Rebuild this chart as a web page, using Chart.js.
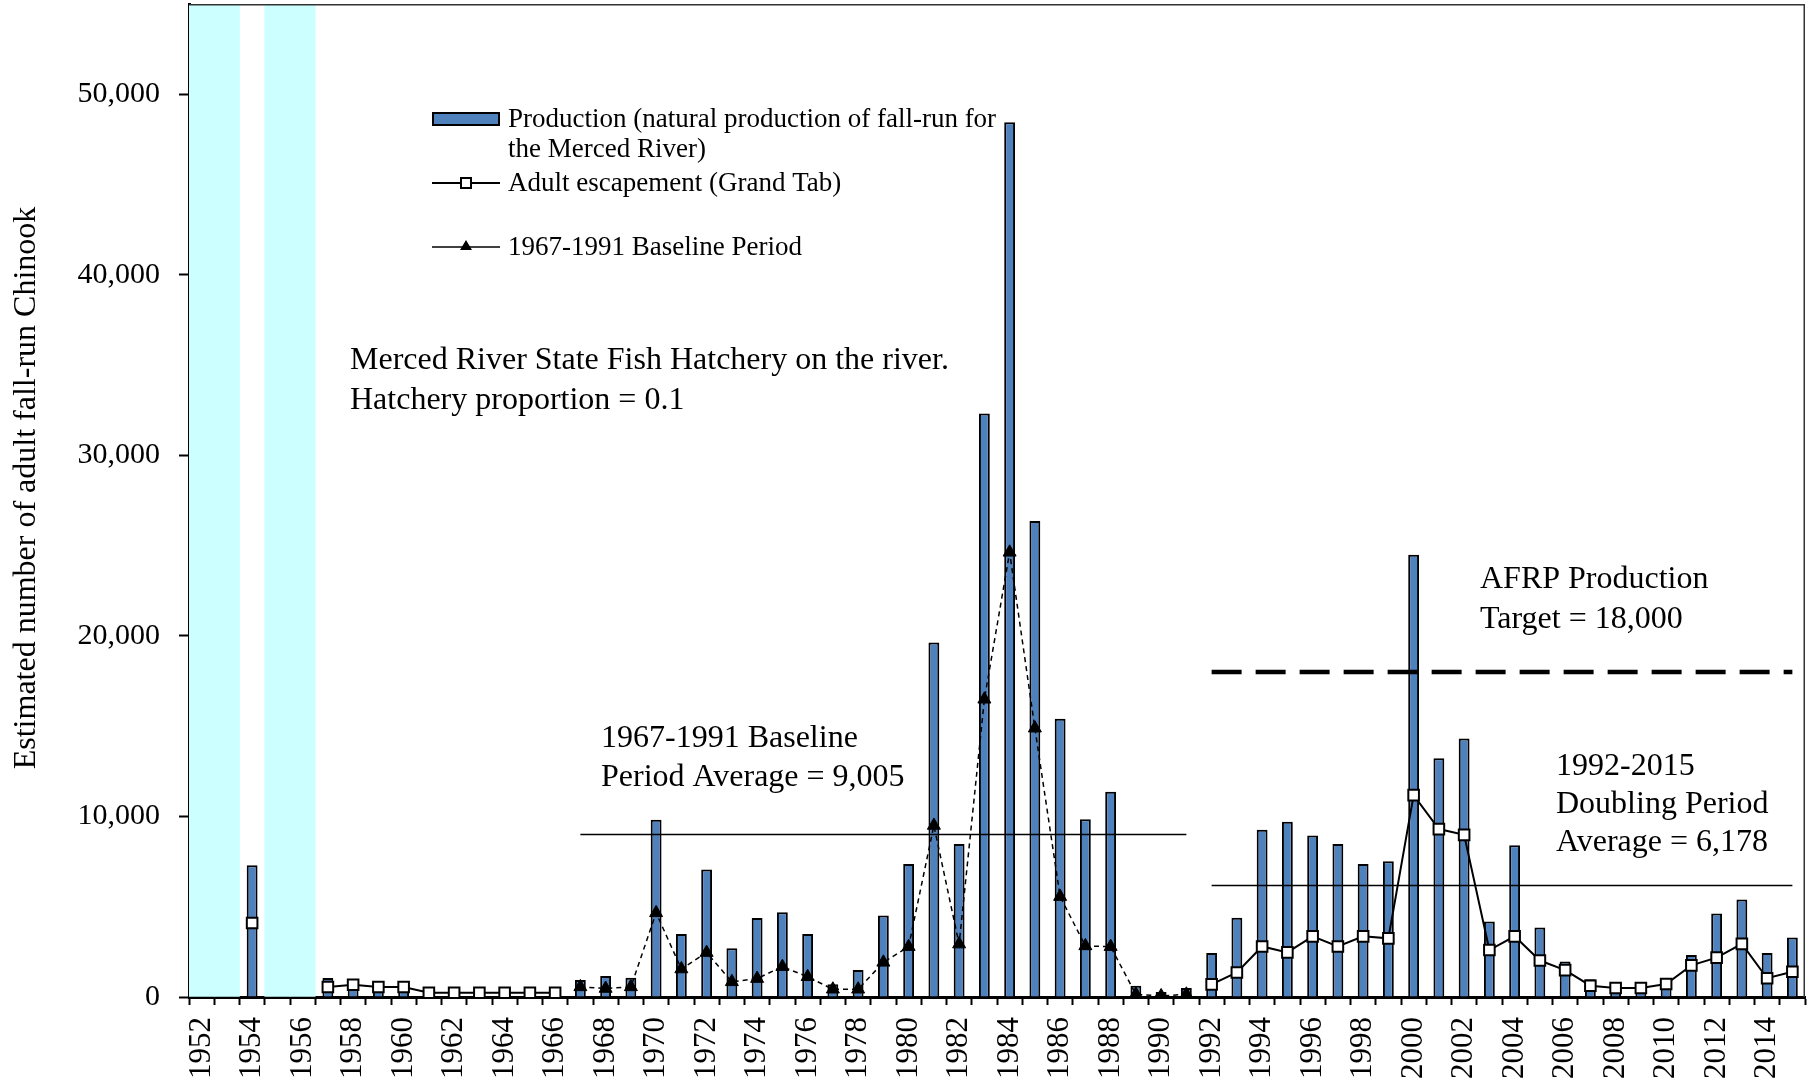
<!DOCTYPE html>
<html>
<head>
<meta charset="utf-8">
<title>Merced River fall-run Chinook</title>
<script src="https://cdn.jsdelivr.net/npm/chart.js@4.4.1/dist/chart.umd.min.js"></script>
<style>
    html, body { margin: 0; padding: 0; background: #ffffff; }
</style>
</head>
<body>
<canvas id="chinookChart" width="1816" height="1081"></canvas>
<script>
const years = [1952, 1953, 1954, 1955, 1956, 1957, 1958, 1959, 1960, 1961,
    1962, 1963, 1964, 1965, 1966, 1967, 1968, 1969, 1970, 1971,
    1972, 1973, 1974, 1975, 1976, 1977, 1978, 1979, 1980, 1981,
    1982, 1983, 1984, 1985, 1986, 1987, 1988, 1989, 1990, 1991,
    1992, 1993, 1994, 1995, 1996, 1997, 1998, 1999, 2000, 2001,
    2002, 2003, 2004, 2005, 2006, 2007, 2008, 2009, 2010, 2011,
    2012, 2013, 2014, 2015]

// natural production of fall-run, one value per year (null = no estimate)
const production = [null, null, 7300, null, null, 1050, 800, 450, 400, 200,
    150, 150, 150, 150, 150, 935, 1160, 1060, 9820, 3490,
    7060, 2700, 4380, 4700, 3490, 710, 1490, 4510, 7360, 19630,
    8480, 32320, 48450, 26370, 15410, 9850, 11370, 625, 280, 500,
    2435, 4390, 9260, 9700, 8940, 8480, 7370, 7515, 24490, 13220,
    14320, 4180, 8400, 3850, 1960, 990, 400, 400, 700, 2330,
    4630, 5400, 2435, 3300]

// adult escapement (Grand Tab) outside the baseline period
const escapement = [null, null, 4100, null, null, 550, 680, 550, 550, 230,
    230, 230, 230, 230, 230, null, null, null, null, null,
    null, null, null, null, null, null, null, null, null, null,
    null, null, null, null, null, null, null, null, null, null,
    700, 1360, 2800, 2470, 3360, 2800, 3360, 3250, 11180, 9300,
    8980, 2600, 3360, 2020, 1490, 625, 500, 500, 720, 1750,
    2180, 2940, 1040, 1400]

// adult escapement during the 1967-1991 baseline period
const baseline = [null, null, null, null, null, null, null, null, null, null,
    null, null, null, null, null, 560, 470, 560, 4660, 1550,
    2460, 840, 1020, 1680, 1120, 430, 430, 1920, 2790, 9500,
    2930, 16490, 24630, 14890, 5560, 2830, 2790, 150, 60, 150,
    null, null, null, null, null, null, null, null, null, null,
    null, null, null, null, null, null, null, null, null, null,
    null, null, null, null]

const yTicks = [0, 10000, 20000, 30000, 40000, 50000]
const shadedYears = [1952, 1953, 1955, 1956]
const baselinePeriod = [1967, 1991]
const doublingPeriod = [1992, 2015]
const baselineAverage = 9005
const doublingAverage = 6178
const afrpTarget = 18000
const yMax = 55000

function levelOver(period, value) {
    return years.map(y => (y >= period[0] && y <= period[1]) ? value : null)
}

const serif = '"Liberation Serif", "Times New Roman", serif'
const barBlue = "#4f81bd"

Chart.defaults.font.family = serif
Chart.defaults.color = "#000"

// frame on top/right, axis title, text notes and the hand-placed legend
const chartDecor = {
    id: 'chartDecor',
    afterDraw(chart) {
        const { ctx, chartArea: { left, right, top, bottom } } = chart
        ctx.save()
        ctx.strokeStyle = '#333'
        ctx.lineWidth = 1.5
        ctx.beginPath()
        ctx.moveTo(left, top + 0.75)
        ctx.lineTo(right - 0.75, top + 0.75)
        ctx.lineTo(right - 0.75, bottom)
        ctx.stroke()

        ctx.fillStyle = '#000'
        ctx.textBaseline = 'middle'

        // y axis title
        ctx.save()
        ctx.translate(27, 488)
        ctx.rotate(-Math.PI / 2)
        ctx.textAlign = 'center'
        ctx.font = "32px " + serif
        ctx.fillText("Estimated number of adult fall-run Chinook", 0, 0)
        ctx.restore()

        ctx.textAlign = 'left'
        ctx.font = "32px " + serif
        ctx.fillText("Merced River State Fish Hatchery on the river.", 350, 361)
        ctx.fillText("Hatchery proportion = 0.1", 350, 401)
        ctx.fillText("1967-1991 Baseline", 601, 739)
        ctx.fillText("Period Average = 9,005", 601, 778)
        ctx.fillText("AFRP Production", 1480, 580)
        ctx.fillText("Target = 18,000", 1480, 620)
        ctx.fillText("1992-2015", 1556, 767)
        ctx.fillText("Doubling Period", 1556, 805)
        ctx.fillText("Average = 6,178", 1556, 843)

        // legend
        ctx.font = "27px " + serif
        ctx.fillStyle = barBlue
        ctx.fillRect(433, 113, 66, 12)
        ctx.strokeStyle = '#000'
        ctx.lineWidth = 2
        ctx.strokeRect(433, 113, 66, 12)
        ctx.fillStyle = '#000'
        ctx.fillText("Production (natural production of fall-run for", 508, 120)
        ctx.fillText("the Merced River)", 508, 150)

        ctx.beginPath()
        ctx.moveTo(432, 183)
        ctx.lineTo(500, 183)
        ctx.stroke()
        ctx.fillStyle = '#fff'
        ctx.fillRect(461, 178, 10, 10)
        ctx.strokeRect(461, 178, 10, 10)
        ctx.fillStyle = '#000'
        ctx.fillText("Adult escapement (Grand Tab)", 508, 184)

        ctx.lineWidth = 1.5
        ctx.beginPath()
        ctx.moveTo(432, 247)
        ctx.lineTo(500, 247)
        ctx.stroke()
        ctx.beginPath()
        ctx.moveTo(466, 240)
        ctx.lineTo(472, 250)
        ctx.lineTo(460, 250)
        ctx.closePath()
        ctx.fill()
        ctx.fillText("1967-1991 Baseline Period", 508, 248)
        ctx.restore()
    }
}

const data = {
    labels: years,
    datasets: [
        {
            type: "line",
            label: "Adult escapement (Grand Tab)",
            data: escapement,
            borderColor: "#000",
            borderWidth: 2,
            pointStyle: "rect",
            pointRadius: 7.5,
            pointBackgroundColor: "#fff",
            pointBorderColor: "#000",
            pointBorderWidth: 2,
            spanGaps: false,
            order: 0
        },
        {
            type: "line",
            label: "1967-1991 Baseline Period",
            data: baseline,
            borderColor: "#000",
            borderWidth: 1.5,
            borderDash: [5, 4],
            pointStyle: "triangle",
            pointRadius: 7.5,
            pointBackgroundColor: "#000",
            pointBorderColor: "#000",
            pointBorderWidth: 1,
            order: 1
        },
        {
            type: "line",
            label: "Baseline average",
            data: levelOver(baselinePeriod, baselineAverage),
            borderColor: "#000",
            borderWidth: 1.5,
            pointRadius: 0,
            order: 2
        },
        {
            type: "line",
            label: "Doubling period average",
            data: levelOver(doublingPeriod, doublingAverage),
            borderColor: "#000",
            borderWidth: 1.5,
            pointRadius: 0,
            order: 2
        },
        {
            type: "line",
            label: "AFRP production target",
            data: levelOver(doublingPeriod, afrpTarget),
            borderColor: "#000",
            borderWidth: 4.5,
            borderDash: [30, 14],
            pointRadius: 0,
            order: 2
        },
        {
            type: "bar",
            label: "Production (natural production of fall-run for the Merced River)",
            data: production,
            backgroundColor: barBlue,
            borderColor: "#000",
            borderWidth: 2,
            grouped: false,
            categoryPercentage: 1,
            barPercentage: 0.43,
            order: 3
        },
        {
            type: "bar",
            label: "shade",
            data: years.map(y => shadedYears.includes(y) ? yMax : null),
            backgroundColor: "#ccffff",
            borderWidth: 0,
            grouped: false,
            categoryPercentage: 1,
            barPercentage: 1,
            order: 4
        }
    ]
}

// config
const config = {
    type: "bar",
    data,
    options: {
        responsive: false,
        animation: false,
        events: [],
        layout: {
            autoPadding: false,
            padding: { left: 0, right: 11, top: 4, bottom: 0 }
        },
        plugins: {
            legend: { display: false },
            tooltip: { enabled: false }
        },
        scales: {
            x: {
                offset: true,
                grid: {
                    display: true,
                    drawOnChartArea: false,
                    drawTicks: true,
                    tickLength: 8,
                    tickColor: "#000",
                    tickWidth: 2,
                    offset: true
                },
                border: { display: true, color: "#000", width: 3 },
                ticks: {
                    autoSkip: false,
                    maxRotation: 90,
                    minRotation: 90,
                    padding: 12,
                    font: { size: 31 },
                    callback: function (val, i) {
                        return years[i] % 2 === 0 ? String(years[i]) : ""
                    }
                },
                afterFit(scale) {
                    scale.height = 84
                    scale.paddingLeft = 0
                    scale.paddingRight = 0
                }
            },
            y: {
                min: 0,
                max: yMax,
                grid: {
                    display: true,
                    drawOnChartArea: false,
                    drawTicks: true,
                    tickLength: 10,
                    tickColor: "#000",
                    tickWidth: 2
                },
                border: { display: true, color: "#000", width: 3 },
                ticks: {
                    padding: 19,
                    font: { size: 30 },
                    callback: v => v.toLocaleString("en-US")
                },
                afterBuildTicks(scale) {
                    scale.ticks = yTicks.map(v => ({ value: v }))
                },
                afterFit(scale) {
                    scale.width = 189
                    scale.paddingTop = 0
                    scale.paddingBottom = 0
                }
            }
        }
    },
    plugins: [chartDecor]
}

// render init block
const chinookChart = new Chart(
    document.getElementById("chinookChart"),
    config
)
</script>
</body>
</html>
